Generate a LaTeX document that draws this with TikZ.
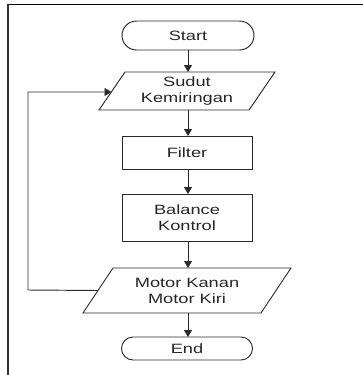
\documentclass[tikz,border=0pt]{standalone}
\usepackage{fontspec}
\setmainfont{Liberation Sans}[FakeStretch=1.35]
\usetikzlibrary{arrows.meta}
\definecolor{txt}{HTML}{262626}
\definecolor{ln}{HTML}{2A2A2A}
\begin{document}
\begin{tikzpicture}[x=1pt,y=-1pt,
  base/.style={inner sep=0pt, outer sep=0pt, align=center, text=txt,
    font=\fontsize{13.5}{16}\selectfont, line width=0.95pt, draw=ln},
  proc/.style={base, rectangle, draw},
  io/.style={base, rectangle, draw=none},
  shp/.style={line width=0.95pt, draw=ln},
  arr/.style={line width=0.95pt, draw=ln, -{Triangle[width=8pt,length=7pt]}}]
\useasboundingbox (0,0) rectangle (363,375);
% frame
\draw[line width=1.5pt, black] (7,4.5) -- (363,4.5);
\draw[line width=1.5pt, black!80] (8,4) -- (8,375);
% nodes
\node[base, draw, rounded corners=14.5pt, minimum width=132pt, minimum height=29pt] (start) at (188,35.5) {Start};
\node[io, minimum width=150pt, minimum height=38pt] (sudut) at (187,91) {Sudut\\Kemiringan};
\draw[shp] ([xshift=13pt]sudut.north west) -- ([xshift=13pt]sudut.north east)
  -- ([xshift=-13pt]sudut.south east) -- ([xshift=-13pt]sudut.south west) -- cycle;
\node[proc, minimum width=130pt, minimum height=33pt] (filter) at (187,152.5) {Filter};
\node[proc, minimum width=130pt, minimum height=47pt] (balance) at (187,217.5) {Balance\\Kontrol};
\node[io, minimum width=178pt, minimum height=45pt] (motor) at (187,290.5) {Motor Kanan\\Motor Kiri};
\draw[shp] ([xshift=15pt]motor.north west) -- ([xshift=15pt]motor.north east)
  -- ([xshift=-15pt]motor.south east) -- ([xshift=-15pt]motor.south west) -- cycle;
\node[base, draw, rounded corners=11.5pt, minimum width=131pt, minimum height=23pt] (end) at (187,348.5) {End};
% connectors
\draw[arr] (start.south -| 188,0) -- (sudut.north -| 188,0);
\draw[arr] (sudut.south -| 188,0) -- (filter.north -| 188,0);
\draw[arr] (filter.south -| 188,0) -- (balance.north -| 188,0);
\draw[arr] (balance.south -| 188,0) -- (motor.north -| 188,0);
\draw[arr] (motor.south -| 188,0) -- (end.north -| 188,0);
\coordinate (lb) at (28,290);
\coordinate (lt) at (28,92);
\draw[arr] (motor.west) -- (lb) -- (lt) -- ([xshift=-0.5pt]sudut.west |- lt);
\end{tikzpicture}
\end{document}
